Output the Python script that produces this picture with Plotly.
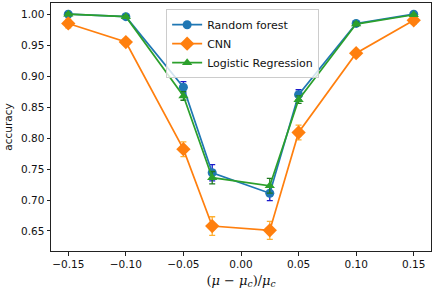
import plotly.graph_objects as go

x_vals = [-0.15, -0.10, -0.05, -0.025, 0.025, 0.05, 0.10, 0.15]

rf_acc = [1.000, 0.996, 0.882, 0.744, 0.711, 0.870, 0.985, 1.000]
rf_err = [0.002, 0.002, 0.009, 0.013, 0.012, 0.008, 0.003, 0.001]

cnn_acc = [0.985, 0.955, 0.782, 0.658, 0.651, 0.809, 0.937, 0.990]
cnn_err = [0.007, 0.004, 0.012, 0.015, 0.0145, 0.012, 0.005, 0.006]

lr_acc = [1.000, 0.996, 0.868, 0.736, 0.723, 0.862, 0.984, 0.999]
lr_err = [0.002, 0.002, 0.007, 0.010, 0.012, 0.006, 0.003, 0.001]

x_ticks = [-0.15, -0.10, -0.05, 0.00, 0.05, 0.10, 0.15]
x_tick_text = ["\u22120.15", "\u22120.10", "\u22120.05", "0.00", "0.05", "0.10", "0.15"]
y_ticks = [0.65, 0.70, 0.75, 0.80, 0.85, 0.90, 0.95, 1.00]
y_tick_text = [f"{v:.2f}" for v in y_ticks]

fig = go.Figure()

def add(name, y, err, color, ecolor, symbol, size):
    fig.add_trace(go.Scatter(
        x=x_vals, y=y, name=name, mode="lines+markers",
        line=dict(color=color, width=1.7),
        marker=dict(color=color, symbol=symbol, size=size),
        error_y=dict(type="data", array=err, visible=True, color=ecolor,
                     thickness=1.3, width=3),
        cliponaxis=False,
    ))

add("Random forest", rf_acc, rf_err, "#1f77b4", "#1a1acc", "circle", 9)
add("CNN", cnn_acc, cnn_err, "#ff7f0e", "#ffb030", "diamond", 11)
add("Logistic Regression", lr_acc, lr_err, "#2ca02c", "#1e7a1e", "triangle-up", 9)

axis_common = dict(showline=True, mirror=True, linecolor="#222", linewidth=1,
                   ticks="outside", ticklen=3.5, tickcolor="#222", tickwidth=1,
                   showgrid=False, zeroline=False, automargin=False,
                   tickfont=dict(family="DejaVu Sans", size=10.5, color="#111"))

fig.update_layout(
    width=436, height=294,
    margin=dict(l=51, r=5, t=3, b=43),
    plot_bgcolor="white", paper_bgcolor="white",
    xaxis=dict(range=[-0.165, 0.165], tickvals=x_ticks, ticktext=x_tick_text,
               title=dict(text="(<i>μ</i> − <i>μ</i><sub><i>c</i></sub>)/<i>μ</i><sub><i>c</i></sub>",
                          font=dict(family="DejaVu Serif", size=13, color="#111"), standoff=6),
               **axis_common),
    yaxis=dict(range=[0.6177, 1.018], tickvals=y_ticks, ticktext=y_tick_text,
               title=dict(text="accuracy", font=dict(family="DejaVu Sans", size=10.5, color="#111"),
                          standoff=6),
               **axis_common),
    legend=dict(x=0.303, y=0.975, xanchor="left", yanchor="top",
                bgcolor="rgba(255,255,255,0.8)", bordercolor="#ccc", borderwidth=1,
                font=dict(family="DejaVu Sans", size=11, color="#111"),
                tracegroupgap=0, itemwidth=30),
    showlegend=True,
)

fig.write_html("out.html", config={"displayModeBar": False},
               post_script="document.body.style.margin='0';")
